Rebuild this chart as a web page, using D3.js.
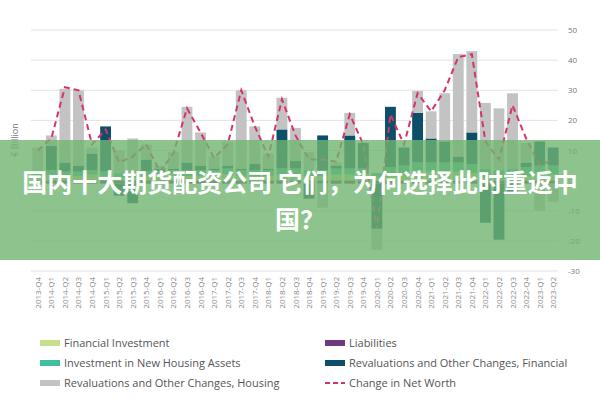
<!DOCTYPE html>
<html><head><meta charset="utf-8">
<script src="https://cdn.jsdelivr.net/npm/d3@7"></script>
<style>body{margin:0;background:#fff;font-family:"Open Sans",sans-serif}</style>
</head><body><svg id="c" width="600" height="400"></svg>
<script>
const quarters = ["2013-Q4","2014-Q1","2014-Q2","2014-Q3","2014-Q4","2015-Q1","2015-Q2","2015-Q3","2015-Q4","2016-Q1","2016-Q2","2016-Q3","2016-Q4","2017-Q1","2017-Q2","2017-Q3","2017-Q4","2018-Q1","2018-Q2","2018-Q3","2018-Q4","2019-Q1","2019-Q2","2019-Q3","2019-Q4","2020-Q1","2020-Q2","2020-Q3","2020-Q4","2021-Q1","2021-Q2","2021-Q3","2021-Q4","2022-Q1","2022-Q2","2022-Q3","2022-Q4","2023-Q1","2023-Q2"];
const finInv = [1.5,2,1.5,1.5,2,1.5,1,1,1.5,1.5,2,1.5,1.5,1.5,2,1.5,1.5,1.5,2,2,1.5,1.5,2,2,2,1,2,2.5,3,3,3,3,2.5,1,0.5,1,1.5,2,2];
const housingInv = [1,1.5,1.5,1.5,1.5,1.5,1.5,1.5,1.5,1.5,1.5,2,2,2,2,2,2,2,2,2,2,2,2,2,2,1.5,2.5,2.5,3,3,3,3,3,3,3,3,3,3,3];
const revalFin = [0.5,8,3,2,5.5,15,-4,-6.5,4,1,0.5,2.5,1.5,0.5,1,0.5,2,0.5,13,2.5,-5,11.5,1,11,8.5,-15,20,6,16.5,8,7,2,10.5,-13,-18.6,-3,1.5,8,6];
const revalHousing = [8,3.5,24.5,25,2,0,7.5,11.5,5,1,5.5,18.5,11,4,8,26,12.5,5,10.5,11,6,-8,1,7.5,0,-7,0,0,7.3,9,16,34,27,21.8,20.5,25,6.5,-9,-6];
const liabilities = [-1,-1,-1,-1,-1,-1,-1,-1,-1,-1,-1,-1,-1,-1,-1,-1,-1,-1,-1,-1,-1,-1,-1,-1,-1,-1,-1,-1,-1,-1,-1,-1,-1,-1,-1,-1,-1,-1,-1];
const netWorth = [10,14,31,30,12,17,6,8,12,3,9,24,16,7.5,12,30,18,8,27,15,7,7,6.3,22,12,-16,22,12,29,23,30,41,42,13,7,25,14,5,7];
const yTicks = [50,40,30,20,10,0,-10,-20,-30];

const series = [
  {key:"fin", name:"Financial Investment", color:"#c8e08c", vals:finInv},
  {key:"hou", name:"Investment in New Housing Assets", color:"#3fbfa0", vals:housingInv},
  {key:"liab", name:"Liabilities", color:"#6d3b7d", vals:liabilities},
  {key:"rf", name:"Revaluations and Other Changes, Financial", color:"#0b5068", vals:revalFin},
  {key:"rh", name:"Revaluations and Other Changes, Housing", color:"#c3c3c3", vals:revalHousing}
];
const rows = quarters.map((q,i) => { const r={q}; series.forEach(s => r[s.key]=s.vals[i]); return r; });

const svg = d3.select("#c");
const x = d3.scaleBand().domain(quarters).range([31,560]).paddingInner(0.2).paddingOuter(0.1);
const y = d3.scaleLinear().domain([-30,50]).range([271,30]);

svg.append("g").selectAll("line").data(yTicks).join("line")
  .attr("x1",31).attr("x2",558).attr("y1",d=>y(d)).attr("y2",d=>y(d))
  .attr("stroke","#e3e3e3").attr("stroke-width",1);
svg.append("g").selectAll("text").data(yTicks).join("text")
  .attr("x",568).attr("y",d=>y(d)+3).attr("font-size",8).attr("fill","#777").text(d=>d);
svg.append("text").attr("transform","translate(18,140) rotate(-90)").attr("text-anchor","middle")
  .attr("font-size",9).attr("fill","#777").text("€ Billion");

const stack = d3.stack().keys(series.map(s=>s.key)).offset(d3.stackOffsetDiverging)(rows);
svg.append("g").selectAll("g").data(stack).join("g")
  .attr("fill",(d,i)=>series[i].color)
  .selectAll("rect").data(d=>d).join("rect")
  .attr("x",d=>x(d.data.q)).attr("width",x.bandwidth())
  .attr("y",d=>y(Math.max(d[0],d[1]))).attr("height",d=>Math.abs(y(d[0])-y(d[1])));

svg.append("path").datum(netWorth)
  .attr("d", d3.line().x((d,i)=>x(quarters[i])+x.bandwidth()/2).y(d=>y(d)))
  .attr("fill","none").attr("stroke","#d6336c").attr("stroke-width",2).attr("stroke-dasharray","6,4");

svg.append("g").selectAll("text").data(quarters).join("text")
  .attr("transform",q=>`translate(${x(q)+x.bandwidth()/2+3},277) rotate(-90)`)
  .attr("text-anchor","end").attr("font-size",8).attr("fill","#888").text(q=>q);

// legend
const legend = [
  {s:series[0],cx:40,cy:343},{s:series[2],cx:325,cy:343},
  {s:series[1],cx:40,cy:363},{s:series[3],cx:325,cy:363},
  {s:series[4],cx:40,cy:383},{s:null,cx:325,cy:383}
];
const lg = svg.append("g");
legend.forEach(l => {
  if (l.s) lg.append("rect").attr("x",l.cx).attr("y",l.cy-3).attr("width",20).attr("height",6).attr("fill",l.s.color);
  else lg.append("line").attr("x1",l.cx).attr("x2",l.cx+20).attr("y1",l.cy).attr("y2",l.cy)
    .attr("stroke","#d6336c").attr("stroke-width",2).attr("stroke-dasharray","5,3");
  lg.append("text").attr("x",l.cx+24).attr("y",l.cy+4).attr("font-size",11).attr("fill","#555")
    .text(l.s ? l.s.name : "Change in Net Worth");
});

// banner overlay
svg.append("rect").attr("x",0).attr("y",140).attr("width",600).attr("height",120).attr("fill","rgba(112,180,112,0.8)");
const t = svg.append("g").attr("font-family","'Noto Sans CJK SC',sans-serif").attr("font-weight","bold")
  .attr("font-size",25).attr("fill","#fff").attr("text-anchor","middle");
t.append("text").attr("x",300).attr("y",192).text("国内十大期货配资公司 它们，为何选择此时重返中");
t.append("text").attr("x",300).attr("y",229).text("国？");
</script></body></html>
